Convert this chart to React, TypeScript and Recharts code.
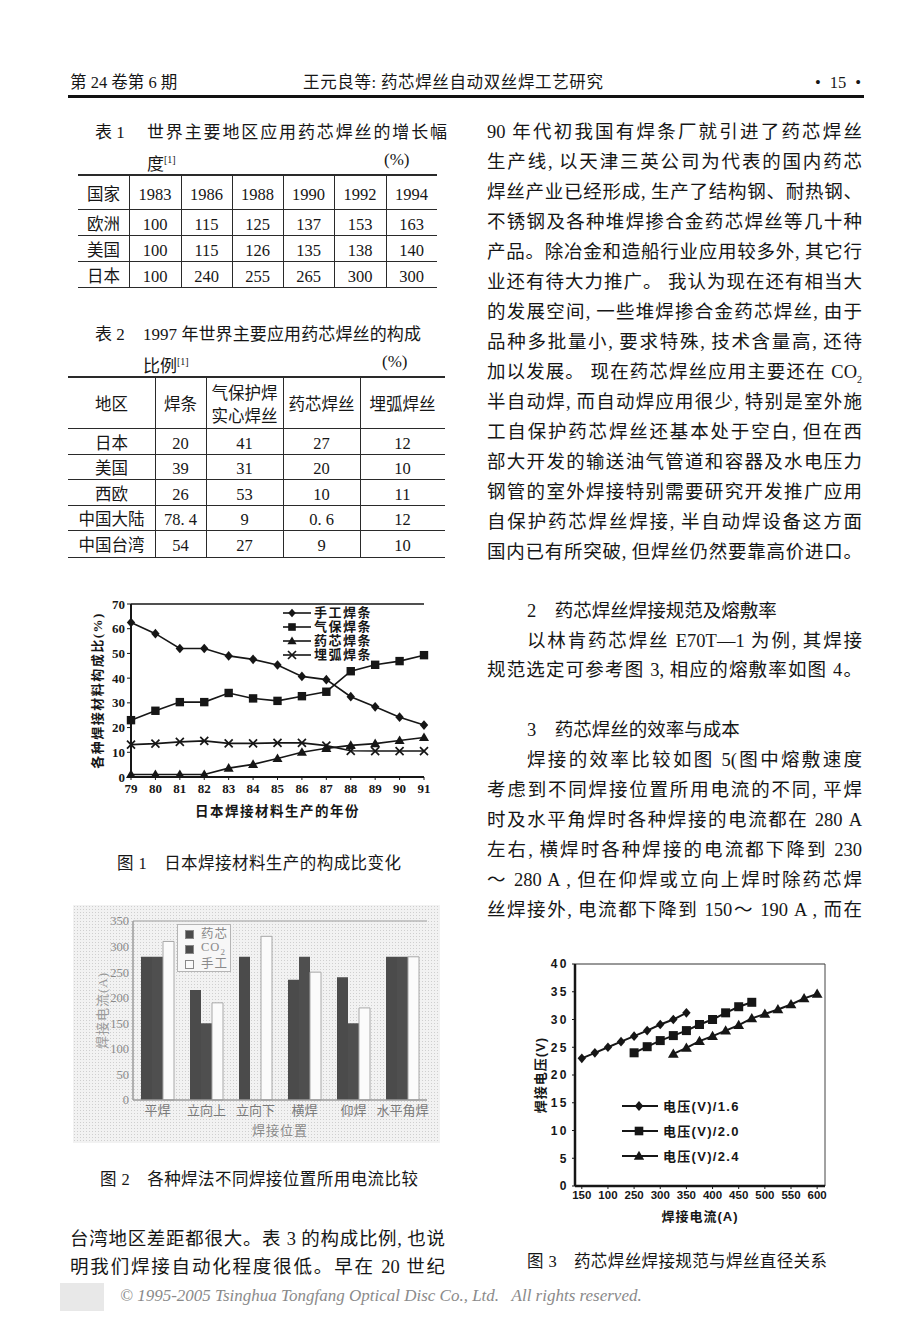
import React from 'react';
import { LineChart, Line, BarChart, Bar, XAxis, YAxis, Legend, ReferenceLine } from 'recharts';

const SERIF = "'Liberation Serif', 'Noto Sans CJK SC', serif";
const SANS = "'Liberation Sans', 'Noto Sans CJK SC', sans-serif";
const INK = '#161616';

// 表 1
const t1Head = ['国家', '1983', '1986', '1988', '1990', '1992', '1994'];
const t1Europe = ['欧洲', '100', '115', '125', '137', '153', '163'];
const t1Usa = ['美国', '100', '115', '126', '135', '138', '140'];
const t1Japan = ['日本', '100', '240', '255', '265', '300', '300'];

// 表 2
const t2Head = ['地区', '焊条', '气保护焊\n实心焊丝', '药芯焊丝', '埋弧焊丝'];
const t2Japan = ['日本', '20', '41', '27', '12'];
const t2Usa = ['美国', '39', '31', '20', '10'];
const t2WestEu = ['西欧', '26', '53', '10', '11'];
const t2China = ['中国大陆', '78. 4', '9', '0. 6', '12'];
const t2Taiwan = ['中国台湾', '54', '27', '9', '10'];

// 图 1
const years = ['79', '80', '81', '82', '83', '84', '85', '86', '87', '88', '89', '90', '91'];
const manualRod = [62.5, 58, 52, 52, 49, 47.6, 45.3, 40.7, 39.4, 32.5, 28.4, 24.2, 21];
const gasRod = [23, 26.8, 30.3, 30.3, 34, 31.8, 30.8, 32.7, 34.5, 42.8, 45.4, 46.9, 49.3];
const fluxRod = [1, 1, 1, 1, 3.6, 5.1, 7.5, 10, 11.6, 12.8, 13.5, 14.8, 16];
const sawRod = [13.1, 13.5, 14.2, 14.6, 13.6, 13.6, 13.8, 13.8, 12.7, 10.6, 10.5, 10.5, 10.5];
const fig1Ticks = [0, 10, 20, 30, 40, 50, 60, 70];

// 图 2
const positions = ['平焊', '立向上', '立向下', '横焊', '仰焊', '水平角焊'];
const fluxCurrent = [280, 215, 280, 235, 240, 280];
const co2Current = [280, 150, null, 280, 150, 280];
const manualCurrent = [310, 190, 320, 250, 180, 280];
const fig2Ticks = [0, 50, 100, 150, 200, 250, 300, 350];

// 图 3
const amps16 = [150, 175, 200, 225, 250, 275, 300, 325, 350];
const volts16 = [23, 24, 25, 26, 27, 28, 29.1, 30, 31.2];
const amps20 = [250, 275, 300, 325, 350, 375, 400, 425, 450, 475];
const volts20 = [24, 25.1, 26.2, 27.1, 28, 29.1, 30, 31.2, 32.3, 33.1];
const amps24 = [325, 350, 375, 400, 425, 450, 475, 500, 525, 550, 575, 600];
const volts24 = [23.8, 24.9, 26.1, 27, 28, 29, 30.2, 31, 31.8, 32.7, 33.8, 34.6];
const fig3XTicks = [150, 200, 250, 300, 350, 400, 450, 500, 550, 600];
const fig3XLabels = ['150', '100', '250', '300', '350', '400', '450', '500', '550', '600'];
const fig3YTicks = [0, 5, 10, 15, 20, 25, 30, 35, 40];

const fig1Data = years.map((y, i) => ({
  year: y, manual: manualRod[i], gas: gasRod[i], flux: fluxRod[i], saw: sawRod[i],
}));
const fig2Data = positions.map((p, i) => ({
  pos: p, flux: fluxCurrent[i], co2: co2Current[i], manual: manualCurrent[i],
}));
const pairs = (a: number[], v: number[]) => a.map((x, i) => ({ a: x, v: v[i] }));
const fig3S16 = pairs(amps16, volts16);
const fig3S20 = pairs(amps20, volts20);
const fig3S24 = pairs(amps24, volts24);

type Kind = 'diamond' | 'square' | 'triangle' | 'cross';

const Marker = ({ kind, cx, cy, s }: { kind: Kind; cx: number; cy: number; s: number }) => {
  if (kind === 'diamond')
    return <path d={`M${cx},${cy - s * 1.15}L${cx + s},${cy}L${cx},${cy + s * 1.15}L${cx - s},${cy}Z`} fill={INK} />;
  if (kind === 'square')
    return <rect x={cx - s} y={cy - s} width={s * 2} height={s * 2} fill={INK} />;
  if (kind === 'triangle')
    return <path d={`M${cx},${cy - s * 1.2}L${cx + s * 1.2},${cy + s * 0.85}L${cx - s * 1.2},${cy + s * 0.85}Z`} fill={INK} />;
  return (
    <path d={`M${cx - s},${cy - s}L${cx + s},${cy + s}M${cx + s},${cy - s}L${cx - s},${cy + s}`}
      stroke={INK} strokeWidth={1.7} fill="none" />
  );
};

const dotOf = (kind: Kind, s: number) => (p: any) => {
  if (p.cx == null || p.cy == null || p.value == null) return <g key={`${kind}-${p.index}`} />;
  return (
    <g key={`${kind}-${p.index}`}>
      <Marker kind={kind} cx={p.cx} cy={p.cy} s={s} />
    </g>
  );
};

const fig1Series: { key: string; name: string; kind: Kind }[] = [
  { key: 'manual', name: '手工焊条', kind: 'diamond' },
  { key: 'gas', name: '气保焊条', kind: 'square' },
  { key: 'flux', name: '药芯焊条', kind: 'triangle' },
  { key: 'saw', name: '埋弧焊条', kind: 'cross' },
];

const fig3Series: { name: string; kind: Kind; data: { a: number; v: number }[] }[] = [
  { name: '电压(V)/1.6', kind: 'diamond', data: fig3S16 },
  { name: '电压(V)/2.0', kind: 'square', data: fig3S20 },
  { name: '电压(V)/2.4', kind: 'triangle', data: fig3S24 },
];

const fig2Legend = [
  { name: '药芯', fill: '#4a4a4a' },
  { name: 'CO2', fill: '#4a4a4a' },
  { name: '手工', fill: '#fafafa' },
];

// 行文字
const Txt = ({ x, y, w, size = 18.5, justify = false, style, children }: any) => (
  <div
    style={{
      position: 'absolute', left: x, top: y - size * 0.68, width: w, fontSize: size,
      lineHeight: `${Math.round(size * 1.36)}px`, textAlign: justify ? 'justify' : 'left',
      textAlignLast: justify ? 'justify' : 'auto', color: INK, fontFamily: SERIF, ...style,
    }}
  >
    {children}
  </div>
);

const Table = ({ cols, rows, cells, size }: { cols: number[]; rows: number[]; cells: string[][]; size: number }) => {
  const x0 = cols[0];
  const x1 = cols[cols.length - 1];
  return (
    <>
      {rows.map((r, i) => (
        <div key={`h${i}`} style={{
          position: 'absolute', left: x0, top: r - (i === 0 ? 1 : 0.5), width: x1 - x0,
          height: i === 0 ? 2 : 1.3, background: '#2a2a2a',
        }} />
      ))}
      {cols.slice(1, -1).map((c, i) => (
        <div key={`v${i}`} style={{
          position: 'absolute', left: c - 0.5, top: rows[0], width: 1.3,
          height: rows[rows.length - 1] - rows[0], background: '#2a2a2a',
        }} />
      ))}
      {cells.map((row, ri) => row.map((t, ci) => (
        <div key={`c${ri}-${ci}`} style={{
          position: 'absolute', left: cols[ci], top: rows[ri] + 3, width: cols[ci + 1] - cols[ci],
          height: rows[ri + 1] - rows[ri], display: 'flex', alignItems: 'center', justifyContent: 'center',
          textAlign: 'center', whiteSpace: 'pre-line', fontSize: size, lineHeight: `${size + 6}px`,
          fontFamily: SERIF, color: INK,
        }}>{t}</div>
      )))}
    </>
  );
};

const Fig1Legend = () => (
  <div style={{ fontFamily: SERIF }}>
    {fig1Series.map((s) => (
      <div key={s.key} style={{ display: 'flex', alignItems: 'center', height: 14 }}>
        <svg width={28} height={14}>
          <line x1={0} y1={7} x2={28} y2={7} stroke={INK} strokeWidth={1.6} />
          <Marker kind={s.kind} cx={9} cy={7} s={s.kind === 'cross' ? 4 : 3.8} />
        </svg>
        <span style={{ marginLeft: 3, fontSize: 13, fontWeight: 700, letterSpacing: 1.5, lineHeight: '14px', color: INK }}>
          {s.name}
        </span>
      </div>
    ))}
  </div>
);

const Fig2Legend = () => (
  <div style={{
    border: '1px solid #b5b5b5', background: '#f7f7f7', width: 54, height: 48,
    boxSizing: 'border-box', paddingTop: 2, fontFamily: SERIF,
  }}>
    {fig2Legend.map((s) => (
      <div key={s.name} style={{ display: 'flex', alignItems: 'center', height: 15, paddingLeft: 7 }}>
        <div style={{ width: 7, height: 7, background: s.fill, border: '1px solid #888' }} />
        <span style={{ marginLeft: 7, fontSize: 12.5, color: '#8a8a8a', letterSpacing: 1, lineHeight: '15px' }}>
          {s.name === 'CO2' ? <>CO<sub style={{ fontSize: 9 }}>2</sub></> : s.name}
        </span>
      </div>
    ))}
  </div>
);

const Fig3Legend = () => (
  <div style={{ fontFamily: SANS }}>
    {fig3Series.map((s) => (
      <div key={s.name} style={{ display: 'flex', alignItems: 'center', height: 25 }}>
        <svg width={36} height={14}>
          <line x1={0} y1={7} x2={36} y2={7} stroke={INK} strokeWidth={2} />
          <Marker kind={s.kind} cx={17} cy={7} s={4.3} />
        </svg>
        <span style={{ marginLeft: 5, fontSize: 13, fontWeight: 700, letterSpacing: 1.3, color: INK }}>{s.name}</span>
      </div>
    ))}
  </div>
);

const Fig1 = () => (
  <div style={{ position: 'absolute', left: 70, top: 590 }}>
    <LineChart width={380} height={230} data={fig1Data} margin={{ top: 14, right: 26, bottom: 0, left: 0 }}>
      <ReferenceLine y={70} stroke={INK} strokeWidth={1.5} />
      <XAxis
        dataKey="year" height={43} interval={0} tickSize={3} tickMargin={4}
        axisLine={{ stroke: INK, strokeWidth: 2 }} tickLine={{ stroke: INK }}
        tick={{ fill: INK, fontSize: 13, fontFamily: SERIF, fontWeight: 700 }}
        label={{ value: '日本焊接材料生产的年份', position: 'insideBottom', offset: 4, fill: INK,
          fontSize: 13.5, fontWeight: 700, fontFamily: SERIF, letterSpacing: 1.5 }}
      />
      <YAxis
        width={61} domain={[0, 70]} ticks={fig1Ticks} tickSize={4} tickMargin={2}
        axisLine={{ stroke: INK, strokeWidth: 2 }} tickLine={{ stroke: INK }}
        tick={{ fill: INK, fontSize: 13, fontFamily: SERIF, fontWeight: 700 }}
        label={{ value: '各种焊接材料构成比(%)', angle: -90, position: 'insideLeft', offset: 27,
          style: { textAnchor: 'middle' }, fill: INK, fontSize: 13, fontWeight: 700, fontFamily: SERIF, letterSpacing: 1.5 }}
      />
      {fig1Series.map((s) => (
        <Line key={s.key} dataKey={s.key} name={s.name} type="linear" stroke={INK} strokeWidth={1.6}
          dot={dotOf(s.kind, s.kind === 'cross' ? 4 : 4.2)} activeDot={false} isAnimationActive={false} />
      ))}
      <Legend layout="horizontal" verticalAlign="middle" align="center" content={<Fig1Legend />}
        wrapperStyle={{ left: 213, top: 16, width: 'auto', height: 'auto' }} />
    </LineChart>
  </div>
);

const Fig2 = () => (
  <div style={{
    position: 'absolute', left: 73, top: 905, width: 367, height: 238,
    backgroundColor: '#f2f2f2',
    backgroundImage: 'radial-gradient(#cfcfcf 0.7px, transparent 0.9px)',
    backgroundSize: '3px 3px',
  }}>
    <BarChart width={367} height={238} data={fig2Data} margin={{ top: 16, right: 13, bottom: 0, left: 0 }}
      barGap={0} barCategoryGap="16%">
      <ReferenceLine y={350} stroke="#b8b8b8" strokeWidth={1.5} />
      <XAxis
        dataKey="pos" height={43} interval={0} tickSize={4} tickMargin={2} tickLine={false}
        axisLine={{ stroke: '#9a9a9a', strokeWidth: 1.5 }}
        tick={{ fill: '#7a7a7a', fontSize: 13, fontFamily: SERIF }}
        label={{ value: '焊接位置', position: 'insideBottom', offset: 8, fill: '#8a8a8a', fontSize: 13, fontFamily: SERIF, letterSpacing: 1 }}
      />
      <YAxis
        width={60} domain={[0, 350]} ticks={fig2Ticks} tickSize={0} tickMargin={4} tickLine={false}
        axisLine={{ stroke: '#9a9a9a', strokeWidth: 1.5 }}
        tick={{ fill: '#8a8a8a', fontSize: 12.5, fontFamily: SERIF }}
        label={{ value: '焊接电流(A)', angle: -90, position: 'insideLeft', offset: 29, style: { textAnchor: 'middle' },
          fill: '#9a9a9a', fontSize: 13, fontFamily: SERIF, letterSpacing: 1 }}
      />
      <Bar dataKey="flux" name="药芯" fill="#4b4b4b" barSize={11} isAnimationActive={false} />
      <Bar dataKey="co2" name="CO2" fill="#4f4f4f" barSize={11} isAnimationActive={false} />
      <Bar dataKey="manual" name="手工" fill="#fbfbfb" stroke="#a8a8a8" strokeWidth={1} barSize={11} isAnimationActive={false} />
      <Legend layout="horizontal" verticalAlign="middle" align="center" content={<Fig2Legend />}
        wrapperStyle={{ left: 104, top: 19, width: 'auto', height: 'auto' }} />
    </BarChart>
  </div>
);

const Fig3 = () => (
  <div style={{ position: 'absolute', left: 530, top: 955 }}>
    <LineChart width={300} height={270} margin={{ top: 9, right: 5, bottom: 0, left: 0 }}>
      <ReferenceLine y={40} stroke="#333" strokeWidth={1} />
      <ReferenceLine x={615} stroke="#444" strokeWidth={1} />
      <XAxis
        type="number" dataKey="a" domain={[137, 615]} ticks={fig3XTicks} allowDataOverflow height={39}
        tickFormatter={(v: number) => fig3XLabels[fig3XTicks.indexOf(v)] ?? String(v)}
        tickSize={3} tickMargin={2} axisLine={{ stroke: INK, strokeWidth: 2.5 }} tickLine={{ stroke: INK }}
        tick={{ fill: INK, fontSize: 11.5, fontFamily: SANS, fontWeight: 700 }}
        label={{ value: '焊接电流(A)', position: 'insideBottom', offset: 4, fill: INK, fontSize: 13,
          fontWeight: 700, fontFamily: SANS, letterSpacing: 1 }}
      />
      <YAxis
        type="number" domain={[0, 40]} ticks={fig3YTicks} width={45} tickSize={3} tickMargin={3}
        axisLine={{ stroke: INK, strokeWidth: 2.5 }} tickLine={{ stroke: INK }}
        tick={{ fill: INK, fontSize: 12, fontFamily: SANS, fontWeight: 700, letterSpacing: 2.5 }}
        label={{ value: '焊接电压(V)', angle: -90, position: 'insideLeft', offset: 10, style: { textAnchor: 'middle' },
          fill: INK, fontSize: 13, fontWeight: 700, fontFamily: SANS, letterSpacing: 1 }}
      />
      {fig3Series.map((s) => (
        <Line key={s.name} data={s.data} dataKey="v" name={s.name} type="linear" stroke={INK} strokeWidth={2}
          dot={dotOf(s.kind, s.kind === 'diamond' ? 4.2 : 4.5)} activeDot={false} isAnimationActive={false} />
      ))}
      <Legend layout="horizontal" verticalAlign="middle" align="center" content={<Fig3Legend />}
        wrapperStyle={{ left: 92, top: 138, width: 'auto', height: 'auto' }} />
    </LineChart>
  </div>
);

const rightLines: [number, number, string, boolean][] = [
  [133, 0, '90 年代初我国有焊条厂就引进了药芯焊丝', true],
  [163, 0, '生产线, 以天津三英公司为代表的国内药芯', true],
  [193, 0, '焊丝产业已经形成, 生产了结构钢、耐热钢、', true],
  [223, 0, '不锈钢及各种堆焊掺合金药芯焊丝等几十种', true],
  [253, 0, '产品。除冶金和造船行业应用较多外, 其它行', true],
  [283, 0, '业还有待大力推广。 我认为现在还有相当大', true],
  [313, 0, '的发展空间, 一些堆焊掺合金药芯焊丝, 由于', true],
  [343, 0, '品种多批量小, 要求特殊, 技术含量高, 还待', true],
  [403, 0, '半自动焊, 而自动焊应用很少, 特别是室外施', true],
  [433, 0, '工自保护药芯焊丝还基本处于空白, 但在西', true],
  [463, 0, '部大开发的输送油气管道和容器及水电压力', true],
  [493, 0, '钢管的室外焊接特别需要研究开发推广应用', true],
  [523, 0, '自保护药芯焊丝焊接, 半自动焊设备这方面', true],
  [553, 0, '国内已有所突破, 但焊丝仍然要靠高价进口。', true],
  [642, 40, '以林肯药芯焊丝 E70T—1 为例, 其焊接', true],
  [671, 0, '规范选定可参考图 3, 相应的熔敷率如图 4。', true],
  [761, 40, '焊接的效率比较如图 5(图中熔敷速度', true],
  [791, 0, '考虑到不同焊接位置所用电流的不同, 平焊', true],
  [821, 0, '时及水平角焊时各种焊接的电流都在 280 A', true],
  [851, 0, '左右, 横焊时各种焊接的电流都下降到 230', true],
  [881, 0, '～ 280 A , 但在仰焊或立向上焊时除药芯焊', true],
  [911, 0, '丝焊接外, 电流都下降到 150～ 190 A ,  而在', true],
];

export default function App() {
  return (
    <div style={{ position: 'absolute', left: 0, top: 0, width: 920, height: 1332, background: '#fff', overflow: 'hidden', fontFamily: SERIF }}>
      {/* 页眉 */}
      <Txt x={70} y={83} w={120} size={16.5}>第 24 卷第 6 期</Txt>
      <Txt x={303} y={83} w={300} size={16.5} justify>王元良等: 药芯焊丝自动双丝焊工艺研究</Txt>
      <Txt x={815} y={83} w={46} size={16.5} justify>• 15 •</Txt>
      <div style={{ position: 'absolute', left: 68, top: 95, width: 796, height: 2.5, background: '#111' }} />

      {/* 表 1 */}
      <Txt x={95} y={133} w={40} size={17}>表 1</Txt>
      <Txt x={147} y={133} w={300} size={17} justify>世界主要地区应用药芯焊丝的增长幅</Txt>
      <Txt x={147} y={160} w={60} size={17}>度<sup style={{ fontSize: 10 }}>[1]</sup></Txt>
      <Txt x={384} y={160} w={40} size={17} justify>(%)</Txt>
      <Table cols={[78, 129, 181, 232, 283, 334, 386, 437]} rows={[175, 209, 235, 261, 287]}
        cells={[t1Head, t1Europe, t1Usa, t1Japan]} size={16.5} />

      {/* 表 2 */}
      <Txt x={95} y={335} w={40} size={17}>表 2</Txt>
      <Txt x={143} y={335} w={278} size={17} justify>1997 年世界主要应用药芯焊丝的构成</Txt>
      <Txt x={143} y={362} w={70} size={17}>比例<sup style={{ fontSize: 10 }}>[1]</sup></Txt>
      <Txt x={382} y={362} w={40} size={17} justify>(%)</Txt>
      <Table cols={[68, 155, 206, 283, 360, 445]} rows={[377, 428, 454, 479, 505, 530, 557]}
        cells={[t2Head, t2Japan, t2Usa, t2WestEu, t2China, t2Taiwan]} size={16.5} />

      <Fig1 />
      <Txt x={117} y={864} w={284} size={16.5} justify>图 1　日本焊接材料生产的构成比变化</Txt>

      <Fig2 />
      <Txt x={100} y={1180} w={318} size={16.5} justify>图 2　各种焊法不同焊接位置所用电流比较</Txt>

      <Txt x={70} y={1240} w={375} justify>台湾地区差距都很大。表 3 的构成比例, 也说</Txt>
      <Txt x={70} y={1268} w={375} justify>明我们焊接自动化程度很低。早在 20 世纪</Txt>

      {/* 右栏 */}
      {rightLines.map(([y, ind, t, j]) => (
        <Txt key={y} x={487 + ind} y={y} w={375 - ind} justify={j}>{t}</Txt>
      ))}
      <Txt x={487} y={373} w={375} justify>加以发展。 现在药芯焊丝应用主要还在 CO<sub style={{ fontSize: 10 }}>2</sub></Txt>
      <Txt x={527} y={612} w={280}>2　药芯焊丝焊接规范及熔敷率</Txt>
      <Txt x={527} y={731} w={280}>3　药芯焊丝的效率与成本</Txt>

      <Fig3 />
      <Txt x={527} y={1262} w={300} size={16.5} justify>图 3　药芯焊丝焊接规范与焊丝直径关系</Txt>

      {/* 页脚 */}
      <div style={{ position: 'absolute', left: 60, top: 1283, width: 44, height: 28, background: '#e2e2e2', opacity: 0.8 }} />
      <Txt x={120} y={1296} w={540} size={17} style={{ fontStyle: 'italic', color: '#8a8a8a', whiteSpace: 'pre' }}>
        {'© 1995-2005 Tsinghua Tongfang Optical Disc Co., Ltd.   All rights reserved.'}
      </Txt>
    </div>
  );
}
